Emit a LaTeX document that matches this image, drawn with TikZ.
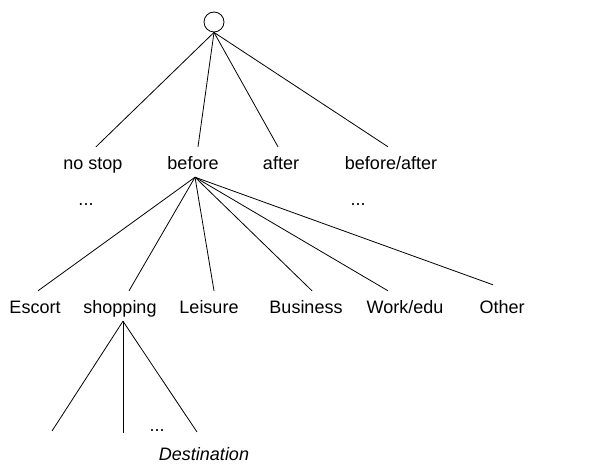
\documentclass[tikz,border=0pt]{standalone}
\usepackage{fontspec}
\setmainfont{Liberation Sans}
\tikzset{
  etiq/.style={anchor=base, font=\fontsize{18}{20}\selectfont, text height=18pt, text depth=4pt, inner sep=4pt},
  branche/.style={line width=0.8pt}
}
\begin{document}
\begin{tikzpicture}[x=1pt,y=-1pt]

\useasboundingbox (0,0) rectangle (609,465);

% Racine
\node[draw, circle, minimum size=20pt, inner sep=0pt, line width=0.8pt] (root) at (214,22) {};

% Premier niveau
\node[etiq] (nostop) at (93,169) {no stop};
\node[etiq] (before) at (193,169) {before};
\node[etiq] (after) at (281,169) {after};
\node[etiq] (beforeafter) at (391,169) {before/after};
\node[etiq] (dotsa) at (86,205) {...};
\node[etiq] (dotsb) at (358,205) {...};

% Deuxieme niveau
\node[etiq] (escort) at (35,313) {Escort};
\node[etiq] (shopping) at (120,313) {shopping};
\node[etiq] (leisure) at (209,313) {Leisure};
\node[etiq] (business) at (306,313) {Business};
\node[etiq] (workedu) at (405,313) {Work/edu};
\node[etiq] (other) at (502,313) {Other};

% Troisieme niveau
\coordinate (leafa) at (52,431);
\coordinate (leafb) at (123,433);
\coordinate (leafc) at (197,432);
\node[etiq] (dotsc) at (157,431) {...};
\node[anchor=base, inner sep=0pt, font=\fontsize{18}{20}\selectfont\itshape] (dest) at (204,460) {Destination};

% Branches depuis la racine
\draw[branche] (root.south) -- ([xshift=3pt]nostop.north);
\draw[branche] (root.south) -- ([xshift=5pt]before.north);
\draw[branche] (root.south) -- ([xshift=-3pt]after.north);
\draw[branche] (root.south) -- ([xshift=-3pt]beforeafter.north);

% Branches depuis before
\draw[branche] ([xshift=2pt]before.south) -- ([xshift=3pt]escort.north);
\draw[branche] ([xshift=2pt]before.south) -- ([xshift=9pt]shopping.north);
\draw[branche] ([xshift=2pt]before.south) -- ([xshift=5pt]leisure.north);
\draw[branche] ([xshift=2pt]before.south) -- ([xshift=6pt]business.north);
\draw[branche] ([xshift=2pt]before.south) -- ([xshift=-17pt]workedu.north);
\draw[branche] ([xshift=2pt]before.south) -- ([xshift=-9pt,yshift=6pt]other.north);

% Branches depuis shopping
\draw[branche] ([xshift=3pt]shopping.south) -- (leafa);
\draw[branche] ([xshift=3pt]shopping.south) -- (leafb);
\draw[branche] ([xshift=3pt]shopping.south) -- (leafc);

\end{tikzpicture}
\end{document}
